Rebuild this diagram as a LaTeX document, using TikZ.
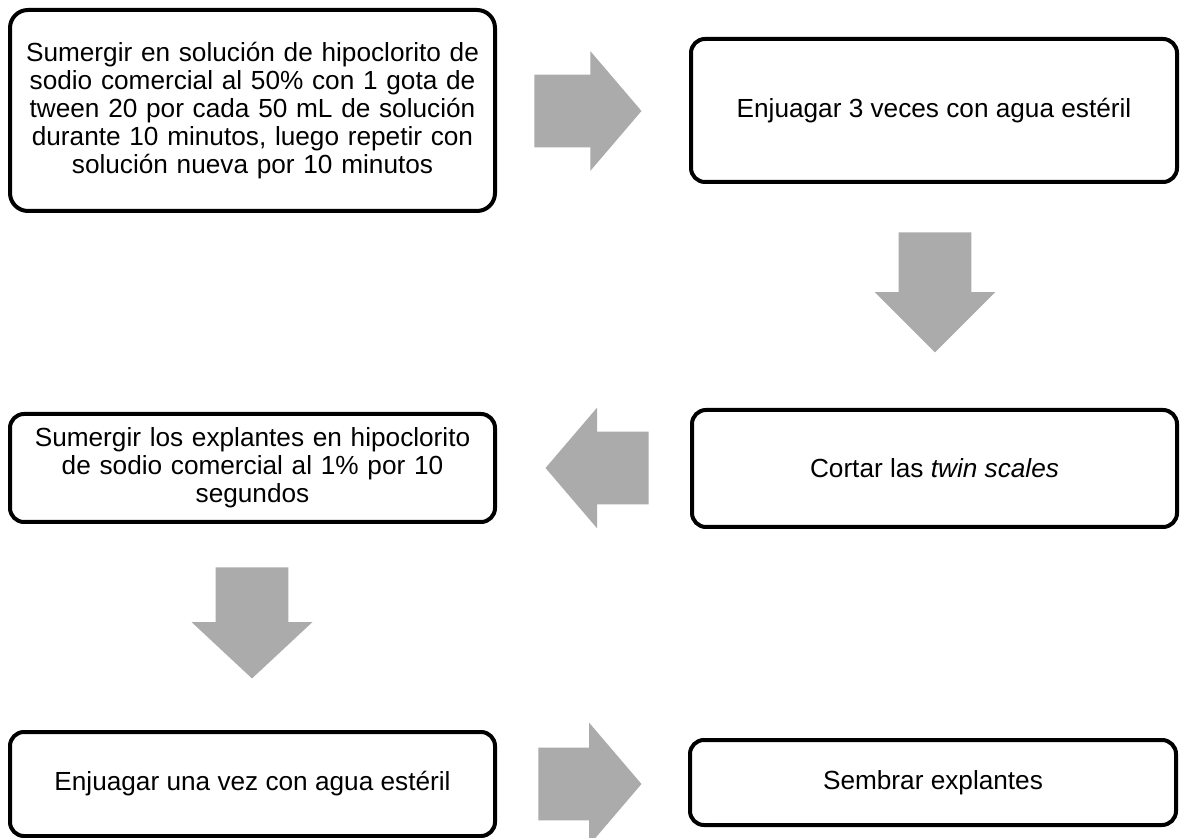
\documentclass[tikz,border=0pt]{standalone}
\usepackage{fontspec}
\setmainfont{Liberation Sans}
\usepackage{xcolor}
\usetikzlibrary{shapes.arrows}
\definecolor{flechagris}{HTML}{ABABAB}

\begin{document}
\begin{tikzpicture}[x=0.5pt,y=-0.5pt,every node/.style={font=\fontsize{13.1}{14}\selectfont, inner sep=2pt},
  caja/.style={draw=black, line width=2pt, rounded corners=7pt, fill=white, align=center},
  flecha/.style={single arrow, fill=flechagris, inner xsep=0pt, inner ysep=18pt, single arrow head extend=12pt, anchor=tip}]
\useasboundingbox (0,0) rectangle (1182,838);
\node[caja, rounded corners=9pt, minimum width=242.5pt, minimum height=100.5pt, text width=236pt] (paso1) at (252.5,110.5) {Sumergir en solución de hipoclorito de\\ sodio comercial al 50\% con 1 gota de\\ tween 20 por cada 50 mL de solución\\ durante 10 minutos, luego repetir con\\ solución nueva por 10 minutos};
\node[caja, minimum width=243pt, minimum height=71.5pt] (paso2) at (934,110.5) {Enjuagar 3 veces con agua estéril};
\node[caja, minimum width=242.5pt, minimum height=58.5pt] (paso3) at (934.5,468.5) {Cortar las \textit{twin scales}};
\node[caja, minimum width=242.5pt, minimum height=54pt, text width=236pt] (paso4) at (252.5,468) {Sumergir los explantes en hipoclorito\\ de sodio comercial al 1\% por 10\\ segundos};
\node[caja, minimum width=242.5pt, minimum height=52pt] (paso5) at (252.5,784) {Enjuagar una vez con agua estéril};
\node[caja, minimum width=243pt, minimum height=42.5pt] (paso6) at (933,782.5) {Sembrar explantes};
\node[flecha, minimum height=53.5pt, single arrow head extend=11.75pt, single arrow tip angle=99] (flecha1) at (642,111) {};
\node[flecha, rotate=-90, minimum height=60pt, single arrow tip angle=90] (flecha2) at (935,353) {};
\node[flecha, rotate=180, minimum height=51.5pt, single arrow tip angle=99] (flecha3) at (545,468) {};
\node[flecha, rotate=-90, minimum height=55.5pt, single arrow tip angle=94] (flecha4) at (252,679) {};
\node[flecha, minimum height=51.5pt, single arrow head extend=12.5pt, single arrow tip angle=99] (flecha5) at (642,784) {};
\end{tikzpicture}
\end{document}
